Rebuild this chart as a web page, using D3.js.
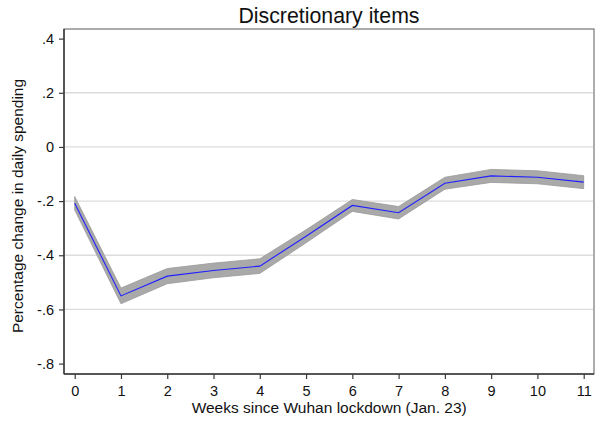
<!DOCTYPE html>
<html>
<head>
<meta charset="utf-8">
<script src="https://cdn.jsdelivr.net/npm/d3@7"></script>
<style>
  html, body { margin: 0; padding: 0; background: #fff; }
  svg { display: block; font-family: "Liberation Sans", Arial, sans-serif; }
</style>
</head>
<body>
<svg id="chart" width="601" height="423"></svg>
<script>
// Weekly estimates of the change in daily spending on discretionary items
const weeks = [0, 1, 2, 3, 4, 5, 6, 7, 8, 9, 10, 11];
const estimate = [-0.208, -0.550, -0.477, -0.456, -0.440, -0.330, -0.216, -0.243, -0.134, -0.107, -0.112, -0.130];
const lowerCI = [-0.233, -0.579, -0.505, -0.483, -0.467, -0.354, -0.238, -0.266, -0.156, -0.131, -0.136, -0.154];
const upperCI = [-0.183, -0.521, -0.449, -0.429, -0.413, -0.306, -0.194, -0.220, -0.112, -0.083, -0.088, -0.106];
const yTicks = [0.4, 0.2, 0, -0.2, -0.4, -0.6, -0.8];
const yTickLabels = [".4", ".2", "0", "-.2", "-.4", "-.6", "-.8"];
const gridValues = [0.2, 0, -0.2, -0.4, -0.6];

const svg = d3.select("#chart");
const frame = { left: 64, right: 594, top: 29, bottom: 374 };

const x = d3.scaleLinear().domain([0, 11]).range([74.7, 583.7]);
const y = d3.scaleLinear().domain([-0.8, 0.4]).range([363.6, 38.6]);

// plot region outline
svg.append("rect")
  .attr("x", frame.left).attr("y", frame.top)
  .attr("width", frame.right - frame.left).attr("height", frame.bottom - frame.top)
  .attr("fill", "#fff").attr("stroke", "#5a5a5a").attr("stroke-width", 1);

// horizontal grid lines
svg.append("g").selectAll("line").data(gridValues).join("line")
  .attr("x1", frame.left + 1).attr("x2", frame.right - 1)
  .attr("y1", d => y(d)).attr("y2", d => y(d))
  .attr("stroke", "#dcdcdc").attr("stroke-width", 1.3);

// confidence band
const rows = weeks.map((w, i) => ({ w, est: estimate[i], lo: lowerCI[i], hi: upperCI[i] }));
svg.append("path")
  .datum(rows)
  .attr("d", d3.area().x(d => x(d.w)).y0(d => y(d.lo)).y1(d => y(d.hi)))
  .attr("fill", "#a9a9a9").attr("stroke", "#9a9a9a").attr("stroke-width", 0.8);

// point estimate line
svg.append("path")
  .datum(rows)
  .attr("d", d3.line().x(d => x(d.w)).y(d => y(d.est)))
  .attr("fill", "none").attr("stroke", "#2020ff").attr("stroke-width", 1.1);

// y axis
const yAxis = d3.axisLeft(y).tickValues(yTicks)
  .tickFormat((d, i) => yTickLabels[i]).tickSize(5).tickPadding(5).tickSizeOuter(0);
const gy = svg.append("g").attr("transform", `translate(${frame.left},0)`).call(yAxis);
gy.select(".domain").attr("d", `M0,${frame.top}V${frame.bottom}`).attr("stroke", "#3a3a3a").attr("stroke-width", 1.5);
gy.selectAll(".tick line").attr("stroke", "#3a3a3a").attr("stroke-width", 1.2);
gy.selectAll(".tick text").attr("font-size", 14.5).attr("fill", "#111")
  .attr("font-family", "Liberation Sans, Arial, sans-serif");

// x axis
const xAxis = d3.axisBottom(x).tickValues(weeks).tickFormat(d3.format("d"))
  .tickSize(5).tickPadding(7).tickSizeOuter(0);
const gx = svg.append("g").attr("transform", `translate(0,${frame.bottom})`).call(xAxis);
gx.select(".domain").attr("d", `M${frame.left},0H${frame.right}`).attr("stroke", "#3a3a3a").attr("stroke-width", 1.5);
gx.selectAll(".tick line").attr("stroke", "#3a3a3a").attr("stroke-width", 1.2);
gx.selectAll(".tick text").attr("font-size", 14.5).attr("fill", "#111")
  .attr("font-family", "Liberation Sans, Arial, sans-serif");

// titles
svg.append("text").attr("x", 329).attr("y", 22.5).attr("text-anchor", "middle")
  .attr("font-size", 21.3).attr("fill", "#111").text("Discretionary items");

svg.append("text").attr("x", 329.2).attr("y", 413.3).attr("text-anchor", "middle")
  .attr("font-size", 15.5).attr("fill", "#111").text("Weeks since Wuhan lockdown (Jan. 23)");

svg.append("text").attr("transform", "translate(23,206) rotate(-90)")
  .attr("text-anchor", "middle").attr("font-size", 15.5).attr("fill", "#111")
  .text("Percentage change in daily spending");
</script>
</body>
</html>
